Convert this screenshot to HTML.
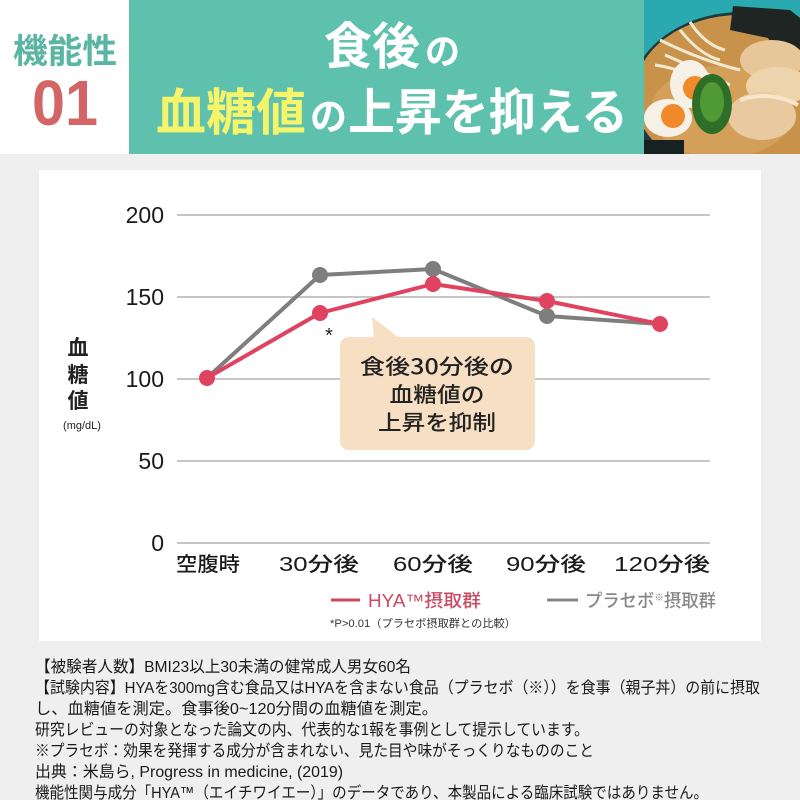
<!DOCTYPE html>
<html><head><meta charset="utf-8"><style>
html,body{margin:0;padding:0;background:#efefef;}
svg{display:block;}
text{font-family:"Liberation Sans","Noto Sans CJK JP",sans-serif;}
.cjk{font-family:"Noto Sans CJK JP","Liberation Sans",sans-serif;}
</style></head><body>
<svg width="800" height="800" viewBox="0 0 800 800" xmlns="http://www.w3.org/2000/svg">
<rect x="0" y="0" width="800" height="800" fill="#efefef"/>
<!-- header -->
<rect x="0" y="0" width="130" height="154" fill="#ffffff"/>
<rect x="129" y="0" width="515" height="154" fill="#5ec1ad"/>
<text class="cjk" x="65" y="63" font-size="34" font-weight="700" fill="#5ab5a2" text-anchor="middle" textLength="104" lengthAdjust="spacingAndGlyphs">機能性</text>
<text x="65" y="125" font-size="64" font-weight="700" fill="#d36567" text-anchor="middle" textLength="66" lengthAdjust="spacingAndGlyphs">01</text>
<text class="cjk" x="324" y="64" font-size="50" font-weight="700" fill="#ffffff" textLength="96" lengthAdjust="spacingAndGlyphs">食後</text>
<text class="cjk" x="425" y="64" font-size="36" font-weight="700" fill="#ffffff" textLength="35" lengthAdjust="spacingAndGlyphs">の</text>
<text class="cjk" x="156" y="130" font-size="50" font-weight="700" fill="#f6f46b" textLength="150" lengthAdjust="spacingAndGlyphs">血糖値</text>
<text class="cjk" x="310" y="130" font-size="38" font-weight="700" fill="#ffffff" textLength="37" lengthAdjust="spacingAndGlyphs">の</text>
<text class="cjk" x="348" y="130" font-size="50" font-weight="700" fill="#ffffff" textLength="280" lengthAdjust="spacingAndGlyphs">上昇を抑える</text>
<!-- ramen image approximation -->
<defs><clipPath id="rc"><rect x="644" y="0" width="156" height="154"/></clipPath></defs>
<g clip-path="url(#rc)">
<rect x="644" y="0" width="156" height="154" fill="#2aa9b0"/>
<ellipse cx="742" cy="98" rx="112" ry="86" fill="#1d3b3d"/>
<ellipse cx="740" cy="95" rx="106" ry="80" fill="#c9924b"/>
<ellipse cx="722" cy="112" rx="72" ry="46" fill="#d49f58"/>
<path d="M660 40 Q700 60 740 70 M665 55 Q700 70 730 85 M680 30 Q700 55 720 60 M655 65 Q690 70 712 90 M690 22 Q705 45 725 50" stroke="#f1ead0" stroke-width="3" fill="none"/>
<polygon points="733,6 790,10 800,18 800,58 780,56 768,38 730,30" fill="#1f2522"/>
<ellipse cx="772" cy="60" rx="32" ry="20" fill="#e7c79a"/>
<ellipse cx="778" cy="86" rx="32" ry="19" fill="#eed4ad"/>
<ellipse cx="762" cy="116" rx="34" ry="24" fill="#e9caa0"/>
<path d="M740 100 Q770 90 798 105" stroke="#f6e6cc" stroke-width="4" fill="none"/>
<ellipse cx="690" cy="84" rx="20" ry="24" fill="#f5f1e6"/>
<circle cx="695" cy="88" r="12" fill="#f08a2a"/>
<ellipse cx="668" cy="118" rx="24" ry="19" fill="#f5f1e6"/>
<circle cx="673" cy="116" r="12" fill="#f2892a"/>
<ellipse cx="712" cy="104" rx="20" ry="30" fill="#2f6e28"/>
<ellipse cx="712" cy="102" rx="12" ry="20" fill="#4f9a35"/>
<rect x="644" y="140" width="40" height="14" fill="#152220"/>
</g>
<!-- chart card -->
<rect x="39" y="170" width="722" height="471" fill="#ffffff"/>
<g stroke="#b3b3b3" stroke-width="1.6">
<line x1="177" y1="215" x2="710" y2="215"/>
<line x1="177" y1="297" x2="710" y2="297"/>
<line x1="177" y1="379" x2="710" y2="379"/>
<line x1="177" y1="461" x2="710" y2="461"/>
<line x1="177" y1="543" x2="710" y2="543"/>
</g>
<g font-size="23" fill="#1a1a1a" text-anchor="end">
<text x="164" y="223">200</text>
<text x="164" y="305">150</text>
<text x="164" y="387">100</text>
<text x="164" y="469">50</text>
<text x="164" y="551">0</text>
</g>
<g class="cjk" font-size="21" font-weight="700" fill="#222">
<text class="cjk" x="78" y="355" text-anchor="middle">血</text>
<text class="cjk" x="78" y="382" text-anchor="middle">糖</text>
<text class="cjk" x="78" y="408" text-anchor="middle">値</text>
</g>
<text x="82" y="429" font-size="11" fill="#222" text-anchor="middle">(mg/dL)</text>
<g font-size="20" font-weight="500" fill="#1a1a1a" text-anchor="middle">
<text x="208" y="571" textLength="64" lengthAdjust="spacingAndGlyphs">空腹時</text>
<text x="319" y="571" textLength="80" lengthAdjust="spacingAndGlyphs">30分後</text>
<text x="433" y="571" textLength="80" lengthAdjust="spacingAndGlyphs">60分後</text>
<text x="546" y="571" textLength="80" lengthAdjust="spacingAndGlyphs">90分後</text>
<text x="662" y="571" textLength="96" lengthAdjust="spacingAndGlyphs">120分後</text>
</g>
<!-- callout -->
<rect x="340" y="337" width="195" height="113" rx="9" fill="#f6dfc2"/>
<polygon points="372,317 374,340 402,340" fill="#f6dfc2"/>
<g class="cjk" font-size="21" font-weight="500" fill="#222" text-anchor="middle">
<text class="cjk" x="437" y="374" textLength="154" lengthAdjust="spacingAndGlyphs">食後30分後の</text>
<text class="cjk" x="437" y="402" textLength="95" lengthAdjust="spacingAndGlyphs">血糖値の</text>
<text class="cjk" x="437" y="430" textLength="118" lengthAdjust="spacingAndGlyphs">上昇を抑制</text>
</g>
<text x="329" y="342" font-size="20" fill="#222" text-anchor="middle">*</text>
<!-- series -->
<polyline points="207,378 320,275 433,269 547,316 660,324" fill="none" stroke="#7e7e7e" stroke-width="4" stroke-linejoin="round"/>
<g fill="#7e7e7e">
<circle cx="320" cy="275" r="8"/><circle cx="433" cy="269" r="8"/><circle cx="547" cy="316" r="8"/>
</g>
<polyline points="207,378 320,313 433,284 547,301 660,324" fill="none" stroke="#e0435f" stroke-width="4" stroke-linejoin="round"/>
<g fill="#e0435f">
<circle cx="207" cy="378" r="8"/><circle cx="320" cy="313" r="8"/><circle cx="433" cy="284" r="8"/><circle cx="547" cy="301" r="8"/><circle cx="660" cy="324" r="8"/>
</g>
<!-- legend -->
<line x1="331" y1="600" x2="360" y2="600" stroke="#cc4a63" stroke-width="3"/>
<text x="368" y="607" font-size="18" font-weight="500" fill="#cc4a63" textLength="113" lengthAdjust="spacingAndGlyphs">HYA™摂取群</text>
<line x1="547" y1="600" x2="578" y2="600" stroke="#888" stroke-width="3"/>
<text x="585" y="607" font-size="18" font-weight="500" fill="#888" textLength="131" lengthAdjust="spacingAndGlyphs">プラセボ<tspan font-size="10" dy="-6">※</tspan><tspan dy="6">摂取群</tspan></text>
<text x="330" y="627" font-size="11" fill="#333" textLength="186" lengthAdjust="spacingAndGlyphs">*P&gt;0.01（プラセボ摂取群との比較）</text>
<!-- notes -->
<g font-size="16" fill="#1a1a1a">
<text x="35" y="672" textLength="376" lengthAdjust="spacingAndGlyphs">【被験者人数】BMI23以上30未満の健常成人男女60名</text>
<text x="35" y="693" textLength="725" lengthAdjust="spacingAndGlyphs">【試験内容】HYAを300mg含む食品又はHYAを含まない食品（プラセボ（※））を食事（親子丼）の前に摂取</text>
<text x="35" y="714" textLength="403" lengthAdjust="spacingAndGlyphs">し、血糖値を測定。食事後0~120分間の血糖値を測定。</text>
<text x="35" y="735" textLength="554" lengthAdjust="spacingAndGlyphs">研究レビューの対象となった論文の内、代表的な1報を事例として提示しています。</text>
<text x="35" y="756" textLength="559" lengthAdjust="spacingAndGlyphs">※プラセボ：効果を発揮する成分が含まれない、見た目や味がそっくりなもののこと</text>
<text x="35" y="777" textLength="308" lengthAdjust="spacingAndGlyphs">出典：米島ら, Progress in medicine, (2019)</text>
<text x="35" y="798" textLength="673" lengthAdjust="spacingAndGlyphs">機能性関与成分「HYA™（エイチワイエー）」のデータであり、本製品による臨床試験ではありません。</text>
</g>
</svg>
</body></html>
